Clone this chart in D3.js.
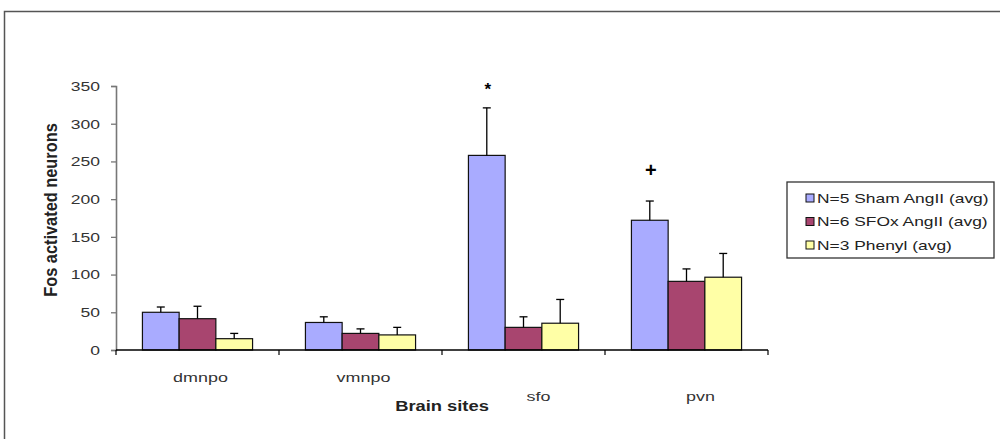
<!DOCTYPE html>
<html>
<head>
<meta charset="utf-8">
<script src="https://cdn.jsdelivr.net/npm/d3@7/dist/d3.min.js"></script>
<style>
    body { margin: 0; background: #fff; }
    svg { display: block; font-family: "Liberation Sans", Arial, sans-serif; }
</style>
</head>
<body>
<svg id="chart" width="1000" height="439"></svg>
<script>
// chart data
var sites = [ 'dmnpo', 'vmnpo', 'sfo', 'pvn' ];
var seriesNames = [ 'N=5 Sham AngII (avg)', 'N=6 SFOx AngII (avg)', 'N=3 Phenyl (avg)' ];
var shamVals = [ 50, 36.5, 258, 172 ];
var sfoxVals = [ 41.5, 22, 30, 91 ];
var phenylVals = [ 15, 20, 35.5, 96.5 ];
var shamErr = [ 7, 7.5, 63, 25.5 ];
var sfoxErr = [ 16.5, 6, 14, 16.5 ];
var phenylErr = [ 7, 10, 31.5, 31.5 ];
var yTicks = [ 0, 50, 100, 150, 200, 250, 300, 350 ];
var markers = [ '', '', '*', '+' ];

var colors = [ '#a9abff', '#a8456f', '#ffffa6' ];
// the original figure is stretched sideways, text too
var stretch = 1.38;
// label placement from the original figure
var labelShift = [ 3, 3, 15, 14 ];
var labelY = [ 382, 382, 401, 401 ];

var svg = d3.select( '#chart' );

function wide( sel, x, y, sx, sy ) {
    sel.attr( 'x', 0 ).attr( 'y', 0 )
        .attr( 'transform', 'translate(' + x + ',' + y + ') scale(' + sx + ',' + ( sy || 1 ) + ')' );
    return sel;
}

// outer frame
svg.append( 'rect' )
    .attr( 'x', 4.5 ).attr( 'y', 11.5 )
    .attr( 'width', 1010 ).attr( 'height', 440 )
    .style( 'fill', 'none' ).style( 'stroke', '#555' ).style( 'stroke-width', 1.5 );

var x = d3.scaleBand()
    .domain( sites )
    .range( [ 116, 768 ] );

var x1 = d3.scaleBand()
    .domain( d3.range( 3 ) )
    .range( [ 0, x.bandwidth() ] )
    .paddingInner( 0 )
    .paddingOuter( 0.72 );

var y = d3.scaleLinear()
    .domain( [ 0, 350 ] )
    .range( [ 350, 86 ] );

// y axis
var yAxis = svg.append( 'g' )
    .attr( 'transform', 'translate(116,0)' )
    .call( d3.axisLeft( y ).tickValues( yTicks ).tickSize( 5 ) );
yAxis.select( '.domain' ).style( 'stroke', '#777' ).style( 'stroke-width', 1.6 );
yAxis.selectAll( '.tick line' ).style( 'stroke', '#777' ).style( 'stroke-width', 1.3 );
yAxis.selectAll( 'text' )
    .attr( 'x', 0 )
    .attr( 'transform', 'translate(-16,0) scale(1.3,1)' )
    .style( 'font-size', '13.5px' ).style( 'fill', '#333' );

var values = [ shamVals, sfoxVals, phenylVals ];
var errs = [ shamErr, sfoxErr, phenylErr ];

var groups = svg.selectAll( 'g.site' )
    .data( sites )
    .enter().append( 'g' )
    .attr( 'class', 'site' )
    .attr( 'transform', function( d ) { return 'translate(' + x( d ) + ',0)'; } );

groups.each( function( site, i ) {
    var g = d3.select( this );
    var rows = [ 0, 1, 2 ].map( function( s ) {
        return { s: s, v: values[ s ][ i ], e: errs[ s ][ i ] };
    });
    g.selectAll( 'rect' )
        .data( rows )
        .enter().append( 'rect' )
        .attr( 'x', function( d ) { return x1( d.s ); } )
        .attr( 'y', function( d ) { return y( d.v ); } )
        .attr( 'width', x1.bandwidth() )
        .attr( 'height', function( d ) { return y( 0 ) - y( d.v ); } )
        .style( 'fill', function( d ) { return colors[ d.s ]; } )
        .style( 'stroke', '#111' ).style( 'stroke-width', 1.2 );

    // error bars, upper half only
    var eb = g.selectAll( 'g.err' )
        .data( rows )
        .enter().append( 'g' ).attr( 'class', 'err' )
        .style( 'stroke', '#000' ).style( 'stroke-width', 1.3 );
    eb.append( 'line' )
        .attr( 'x1', function( d ) { return x1( d.s ) + x1.bandwidth() / 2; } )
        .attr( 'x2', function( d ) { return x1( d.s ) + x1.bandwidth() / 2; } )
        .attr( 'y1', function( d ) { return y( d.v ); } )
        .attr( 'y2', function( d ) { return y( d.v + d.e ); } );
    eb.append( 'line' )
        .attr( 'x1', function( d ) { return x1( d.s ) + x1.bandwidth() / 2 - 4; } )
        .attr( 'x2', function( d ) { return x1( d.s ) + x1.bandwidth() / 2 + 4; } )
        .attr( 'y1', function( d ) { return y( d.v + d.e ); } )
        .attr( 'y2', function( d ) { return y( d.v + d.e ); } );

    if ( markers[ i ] ) {
        g.append( 'text' )
            .attr( 'x', x1( 0 ) + x1.bandwidth() / 2 + 1 )
            .attr( 'y', y( values[ 0 ][ i ] + errs[ 0 ][ i ] ) - ( markers[ i ] === '*' ? 13 : 24 ) )
            .attr( 'text-anchor', 'middle' )
            .style( 'font-size', markers[ i ] === '*' ? '17px' : '20px' )
            .style( 'font-weight', 'bold' )
            .text( markers[ i ] );
    }
});

// x axis
var xAxis = svg.append( 'g' )
    .attr( 'transform', 'translate(0,350)' );
xAxis.append( 'line' )
    .attr( 'x1', 116 ).attr( 'x2', 768 )
    .style( 'stroke', '#000' ).style( 'stroke-width', 1.5 );
xAxis.selectAll( 'line.tk' )
    .data( sites.concat( [ null ] ) )
    .enter().append( 'line' ).attr( 'class', 'tk' )
    .attr( 'x1', function( d ) { return d ? x( d ) : x.range()[ 1 ]; } )
    .attr( 'x2', function( d ) { return d ? x( d ) : x.range()[ 1 ]; } )
    .attr( 'y1', 0 ).attr( 'y2', 5 )
    .style( 'stroke', '#000' ).style( 'stroke-width', 1.2 );

svg.selectAll( 'text.cat' )
    .data( sites )
    .enter().append( 'text' ).attr( 'class', 'cat' )
    .attr( 'transform', function( d, i ) {
        return 'translate(' + ( x( d ) + x.bandwidth() / 2 + labelShift[ i ] ) + ',' + labelY[ i ] + ') scale(' + stretch + ',1)';
    })
    .attr( 'text-anchor', 'middle' )
    .style( 'font-size', '13px' ).style( 'fill', '#333' )
    .text( function( d ) { return d; } );

wide( svg.append( 'text' ), 442, 411, 1.31 )
    .attr( 'text-anchor', 'middle' )
    .style( 'font-size', '14px' ).style( 'font-weight', 'bold' ).style( 'fill', '#222' )
    .text( 'Brain sites' );

svg.append( 'text' )
    .attr( 'transform', 'translate(57,210) rotate(-90) scale(1.26,1.38)' )
    .attr( 'text-anchor', 'middle' )
    .style( 'font-size', '13px' ).style( 'font-weight', 'bold' ).style( 'fill', '#222' )
    .text( 'Fos activated neurons' );

// legend
var legend = svg.append( 'g' ).attr( 'transform', 'translate(787,182)' );
legend.append( 'rect' )
    .attr( 'width', 207 ).attr( 'height', 76 )
    .style( 'fill', '#fff' ).style( 'stroke', '#333' ).style( 'stroke-width', 1.3 );
var items = legend.selectAll( 'g.item' )
    .data( seriesNames )
    .enter().append( 'g' ).attr( 'class', 'item' )
    .attr( 'transform', function( d, i ) { return 'translate(19,' + ( 16 + i * 23.5 ) + ')'; } );
items.append( 'rect' )
    .attr( 'x', 0 ).attr( 'y', -4 ).attr( 'width', 8 ).attr( 'height', 8 )
    .style( 'fill', function( d, i ) { return colors[ i ]; } )
    .style( 'stroke', '#111' );
items.append( 'text' )
    .attr( 'transform', 'translate(11,4.5) scale(1.45,1)' )
    .style( 'font-size', '12px' ).style( 'fill', '#222' )
    .text( function( d ) { return d; } );
</script>
</body>
</html>
